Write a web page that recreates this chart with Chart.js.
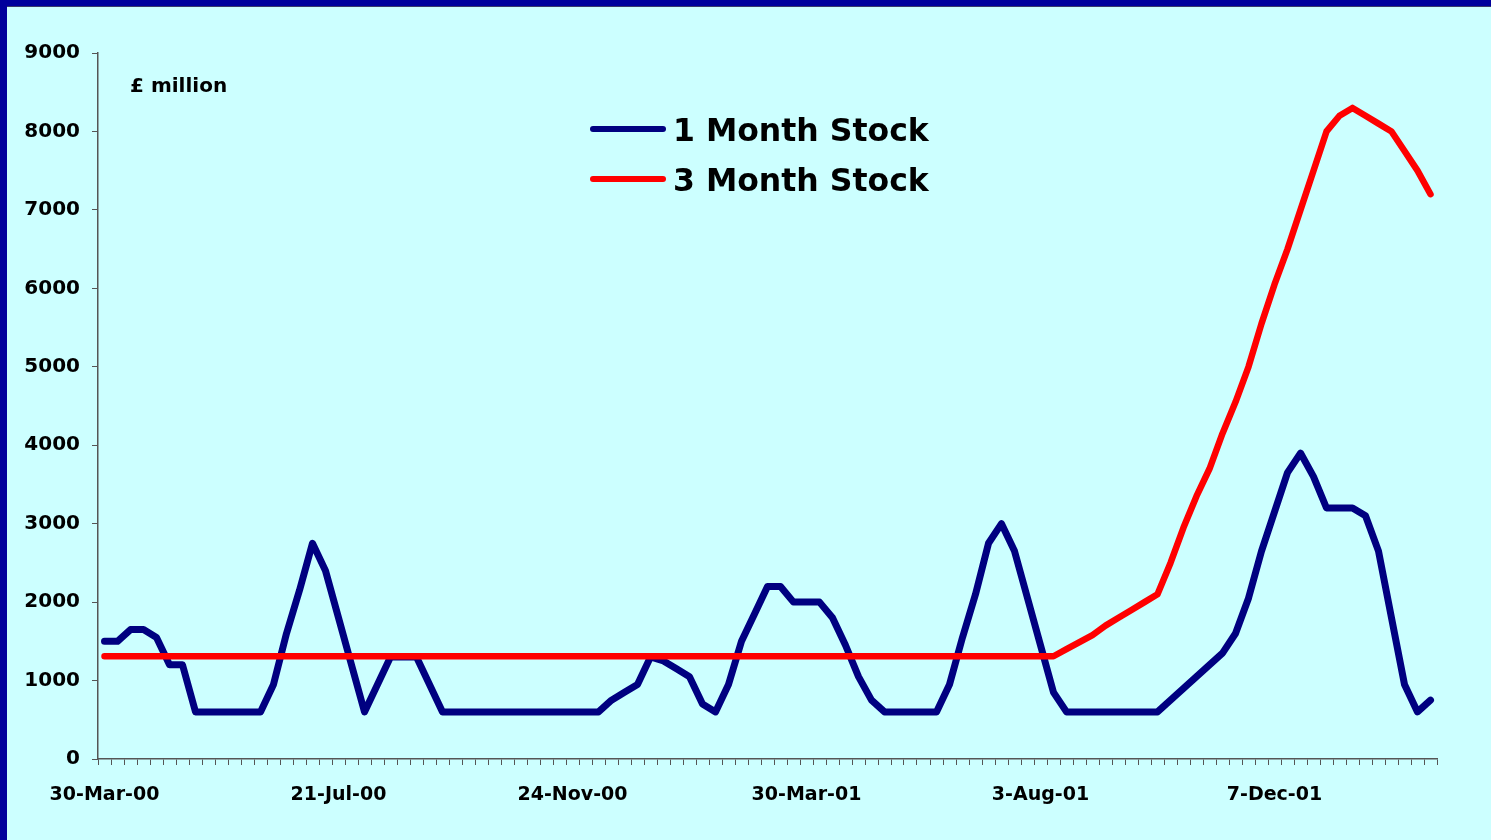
<!DOCTYPE html>
<html>
<head>
<meta charset="utf-8">
<title>1 Month and 3 Month Stock</title>
<script src="https://cdn.jsdelivr.net/npm/chart.js@4/dist/chart.umd.min.js"></script>
<style>
  html, body { margin: 0; padding: 0; background: #ccffff; overflow: hidden; }
  #wrap { position: absolute; left: 0; top: 0; width: 1491px; height: 840px; }
</style>
</head>
<body>
<div id="wrap"><canvas id="chart" width="1491" height="840"></canvas></div>
<script>
// Weekly stock levels, £ million
const tickLabels = ['30-Mar-00', '21-Jul-00', '24-Nov-00', '30-Mar-01', '3-Aug-01', '7-Dec-01'];
const labelEvery = 18;

const oneMonthStock = [
  1500, 1500, 1650, 1650, 1550, 1200, 1200, 600, 600, 600,
  600, 600, 600, 950, 1600, 2150, 2750, 2400, 1800, 1200,
  600, 950, 1300, 1300, 1300, 950, 600, 600, 600, 600,
  600, 600, 600, 600, 600, 600, 600, 600, 600, 750,
  850, 950, 1300, 1250, 1150, 1050, 700, 600, 950, 1500,
  1850, 2200, 2200, 2000, 2000, 2000, 1800, 1450, 1050, 750,
  600, 600, 600, 600, 600, 950, 1550, 2100, 2750, 3000,
  2650, 2050, 1450, 850, 600, 600, 600, 600, 600, 600,
  600, 600, 750, 900, 1050, 1200, 1350, 1600, 2050, 2650,
  3150, 3650, 3900, 3600, 3200, 3200, 3200, 3100, 2650, 1800,
  950, 600, 750
];

const threeMonthStock = [
  1310, 1310, 1310, 1310, 1310, 1310, 1310, 1310, 1310, 1310,
  1310, 1310, 1310, 1310, 1310, 1310, 1310, 1310, 1310, 1310,
  1310, 1310, 1310, 1310, 1310, 1310, 1310, 1310, 1310, 1310,
  1310, 1310, 1310, 1310, 1310, 1310, 1310, 1310, 1310, 1310,
  1310, 1310, 1310, 1310, 1310, 1310, 1310, 1310, 1310, 1310,
  1310, 1310, 1310, 1310, 1310, 1310, 1310, 1310, 1310, 1310,
  1310, 1310, 1310, 1310, 1310, 1310, 1310, 1310, 1310, 1310,
  1310, 1310, 1310, 1310, 1400, 1490, 1580, 1700, 1800, 1900,
  2000, 2100, 2500, 2950, 3350, 3700, 4150, 4550, 5000, 5550,
  6050, 6500, 7000, 7500, 8000, 8200, 8300, 8200, 8100, 8000,
  7750, 7500, 7200
];

const seriesNames = ['1 Month Stock', '3 Month Stock'];
const seriesColors = ['#000080', '#ff0000'];
const unitLabel = '£ million';

const categories = oneMonthStock.map((_, i) => (i % labelEvery === 0 ? tickLabels[i / labelEvery] : ''));

const FONT = '"DejaVu Sans", "Liberation Sans", Arial, sans-serif';

// Slide background with the dark frame along the top and left edges
const slideBackground = {
  id: 'slideBackground',
  beforeDraw(chart) {
    const { ctx, width, height } = chart;
    ctx.save();
    ctx.fillStyle = '#ccffff';
    ctx.fillRect(0, 0, width, height);
    ctx.fillStyle = '#00009c';
    ctx.fillRect(0, 0, width, 6);
    ctx.fillRect(0, 0, 7, height);
    ctx.fillStyle = '#3a3a6a';
    ctx.fillRect(7, 6, width - 7, 1);
    ctx.restore();
  }
};

// Unit caption and the legend placed inside the plot
const annotations = {
  id: 'annotations',
  afterDraw(chart) {
    const { ctx } = chart;
    ctx.save();
    ctx.fillStyle = '#000';
    ctx.textBaseline = 'alphabetic';
    ctx.textAlign = 'left';
    ctx.font = 'bold 20px ' + FONT;
    ctx.fillText(unitLabel, 130, 92);

    chart.data.datasets.forEach((ds, i) => {
      const y = 129 + i * 50;
      ctx.strokeStyle = ds.borderColor;
      ctx.lineWidth = 6;
      ctx.lineCap = 'round';
      ctx.beginPath();
      ctx.moveTo(593, y);
      ctx.lineTo(663, y);
      ctx.stroke();
      ctx.fillStyle = '#000';
      ctx.font = 'bold 31.5px ' + FONT;
      ctx.fillText(ds.label, 673, y + 12);
    });
    ctx.restore();
  }
};

new Chart(document.getElementById('chart'), {
  type: 'line',
  data: {
    labels: categories,
    datasets: [
      {
        label: seriesNames[0],
        data: oneMonthStock,
        borderColor: seriesColors[0],
        borderWidth: 7,
        pointRadius: 0,
        tension: 0,
        fill: false,
        borderJoinStyle: 'round',
        borderCapStyle: 'round',
        order: 1
      },
      {
        label: seriesNames[1],
        data: threeMonthStock,
        borderColor: seriesColors[1],
        borderWidth: 6.5,
        pointRadius: 0,
        tension: 0,
        fill: false,
        borderJoinStyle: 'round',
        borderCapStyle: 'round',
        order: 0
      }
    ]
  },
  options: {
    responsive: false,
    devicePixelRatio: 1,
    animation: false,
    layout: { padding: { left: 0, right: 54, top: 53, bottom: 0 } },
    plugins: {
      legend: { display: false },
      tooltip: { enabled: false }
    },
    scales: {
      x: {
        type: 'category',
        offset: true,
        afterFit(scale) { scale.height = 81; },
        grid: {
          offset: true,
          drawOnChartArea: false,
          drawTicks: true,
          tickLength: 6,
          color: '#555555',
          lineWidth: 1
        },
        border: { display: true, color: '#555555', width: 1.5 },
        ticks: {
          autoSkip: false,
          maxRotation: 0,
          minRotation: 0,
          padding: 19,
          color: '#000',
          font: { family: FONT, size: 19, weight: 'bold' },
          callback(value, index) { return categories[index]; }
        }
      },
      y: {
        min: 0,
        max: 9000,
        afterFit(scale) { scale.width = 98; },
        grid: {
          drawOnChartArea: false,
          drawTicks: true,
          tickLength: 6,
          color: '#555555'
        },
        border: { display: true, color: '#555555', width: 1.5 },
        ticks: {
          stepSize: 1000,
          padding: 12,
          color: '#000',
          font: { family: FONT, size: 20, weight: 'bold' },
          callback(value) { return String(value); }
        }
      }
    }
  },
  plugins: [slideBackground, annotations]
});
</script>
</body>
</html>
